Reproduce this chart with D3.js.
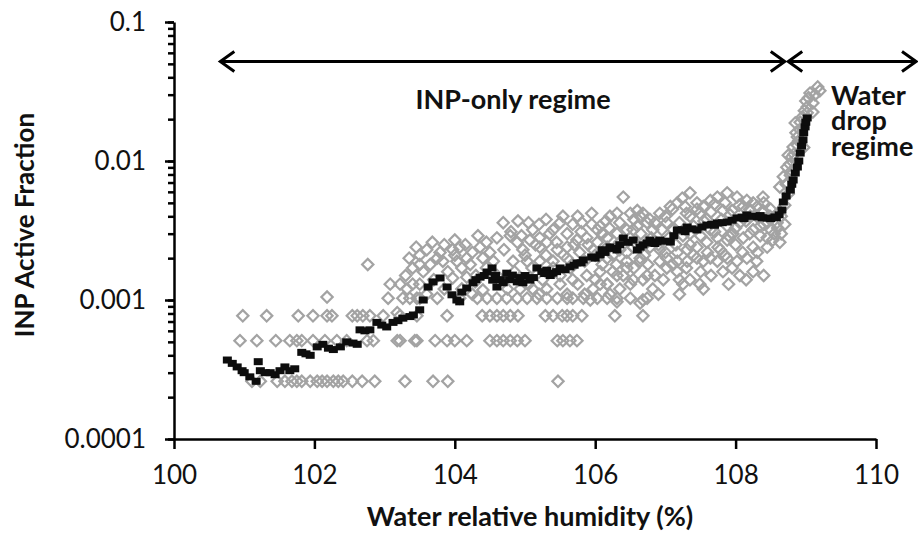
<!DOCTYPE html>
<html>
<head>
<meta charset="utf-8">
<script src="https://cdn.jsdelivr.net/npm/d3@7"></script>
<style>
  html, body { margin: 0; padding: 0; background: #fff; }
  svg { display: block; font-family: Lato, "Open Sans", sans-serif; }
  .axis .domain { stroke: #000; stroke-width: 2.5px; }
  .axis line { stroke: #000; stroke-width: 2.5px; }
  .axis text { fill: #111; }
  .title { font-weight: bold; fill: #111; }
</style>
</head>
<body>
<svg id="chart" width="918" height="534"></svg>
<script>
  // x ticks (water RH %) and y ticks (active fraction)
  const rhTicks = [100, 102, 104, 106, 108, 110];
  const fracTicks = [0.0001, 0.001, 0.01, 0.1];
  const fracTickLabels = ['0.0001', '0.001', '0.01', '0.1'];

  // individual INP measurements, [RH %, active fraction] (grey diamonds)
  const inpPoints = [
    // 0.00077 row
    [100.98, 0.00077], [101.32, 0.00077], [101.77, 0.00077], [101.98, 0.00077], [102.18, 0.00077],
    [102.25, 0.00077], [102.54, 0.00077], [102.61, 0.00077], [102.69, 0.00077], [102.79, 0.00077],
    [102.98, 0.00077], [103.22, 0.00077], [103.46, 0.00077], [103.89, 0.00077], [104.39, 0.00077],
    [104.50, 0.00077], [104.60, 0.00077], [104.69, 0.00077], [104.79, 0.00077], [104.90, 0.00077],
    [105.29, 0.00077], [105.40, 0.00077], [105.53, 0.00077], [105.60, 0.00077], [105.68, 0.00077],
    [105.81, 0.00077], [106.28, 0.00077], [106.68, 0.00077],
    // 0.00051 row
    [100.94, 0.00051], [101.18, 0.00051], [101.45, 0.00051], [101.65, 0.00051], [101.75, 0.00051],
    [101.82, 0.00051], [101.98, 0.00051], [102.15, 0.00051], [102.32, 0.00051], [102.46, 0.00051],
    [102.75, 0.00051], [102.84, 0.00051], [103.18, 0.00051], [103.22, 0.00051], [103.46, 0.00051],
    [103.43, 0.00051], [103.72, 0.00051], [103.89, 0.00051], [104.00, 0.00051], [104.17, 0.00051],
    [104.50, 0.00051], [104.60, 0.00051], [104.69, 0.00051], [104.79, 0.00051], [104.89, 0.00051],
    [105.00, 0.00051], [105.46, 0.00051], [105.54, 0.00051], [105.64, 0.00051], [105.74, 0.00051],
    // 0.00026 row
    [101.11, 0.00026], [101.23, 0.00026], [101.47, 0.00026], [101.58, 0.00026], [101.68, 0.00026],
    [101.75, 0.00026], [101.82, 0.00026], [101.94, 0.00026], [102.04, 0.00026], [102.11, 0.00026],
    [102.18, 0.00026], [102.27, 0.00026], [102.34, 0.00026], [102.41, 0.00026], [102.54, 0.00026],
    [102.68, 0.00026], [102.86, 0.00026], [103.29, 0.00026], [103.69, 0.00026], [103.90, 0.00026],
    [105.47, 0.00026],
    // 0.00103 row
    [102.18, 0.00105], [103.05, 0.00103], [103.26, 0.00103], [103.36, 0.00103], [103.46, 0.00103],
    [103.50, 0.00103], [103.75, 0.00103], [104.07, 0.00103], [104.32, 0.00103], [104.46, 0.00103],
    [104.60, 0.00103], [104.74, 0.00103], [104.89, 0.00103], [105.03, 0.00103], [105.17, 0.00103],
    [105.31, 0.00103], [105.46, 0.00103], [105.60, 0.00103], [105.68, 0.00103], [105.83, 0.00103],
    [106.03, 0.00103], [106.17, 0.00103], [106.31, 0.00103], [106.50, 0.00103], [106.74, 0.00103],
    // scattered, 102.5 - 104.5
    [102.76, 0.0018], [103.08, 0.0013], [103.22, 0.0013], [103.50, 0.0013], [103.18, 0.00081],
    [103.68, 0.0026], [104.33, 0.0029], [104.69, 0.0036], [103.97, 0.0023], [104.07, 0.0024],
    [104.17, 0.0020], [104.36, 0.0024], [104.50, 0.0022], [103.50, 0.0021], [103.60, 0.0023],
    [103.79, 0.0022], [103.40, 0.0017], [103.50, 0.0018], [103.65, 0.0018], [103.83, 0.0019],
    [104.03, 0.0019], [104.22, 0.0018], [104.40, 0.0020], [103.40, 0.0013], [103.32, 0.0012],
    [103.97, 0.00144], [104.17, 0.00146], [104.29, 0.00135], [104.40, 0.00118],
    [103.30, 0.0015], [103.45, 0.0024], [103.55, 0.0016], [103.70, 0.0014], [103.75, 0.0020],
    [103.85, 0.0025], [103.90, 0.0016], [104.00, 0.0021], [104.10, 0.0017], [104.15, 0.0025],
    [104.25, 0.0022], [104.30, 0.0015], [104.45, 0.0017], [104.45, 0.0026], [103.60, 0.0011],
    [103.85, 0.0012], [104.10, 0.0012], [104.25, 0.0011], [104.00, 0.0027], [103.35, 0.0020],
    // dense cloud, 104.5 - 106.8
    [104.60, 0.0028], [104.79, 0.0029], [105.11, 0.0032], [105.21, 0.0028], [105.40, 0.0032],
    [105.54, 0.0040], [105.68, 0.0035], [105.81, 0.0036], [106.03, 0.0032], [106.21, 0.0040],
    [106.40, 0.0055], [106.50, 0.0042], [106.64, 0.0040],
    [104.89, 0.0026], [104.97, 0.0023], [105.07, 0.0027], [105.21, 0.0024], [105.31, 0.0026],
    [105.46, 0.0023], [105.60, 0.0024], [105.74, 0.0027], [105.88, 0.0028], [106.03, 0.0026],
    [106.17, 0.0028], [106.31, 0.0030], [106.45, 0.0032], [106.60, 0.0034], [106.74, 0.0036],
    [104.83, 0.0019], [105.03, 0.0019], [105.21, 0.0019], [105.40, 0.0019], [105.60, 0.0020],
    [105.78, 0.0022], [105.97, 0.0023], [106.17, 0.0024], [106.35, 0.0026], [106.54, 0.0024],
    [106.74, 0.0026], [104.93, 0.0012], [105.11, 0.0012], [105.31, 0.0012], [105.50, 0.0013],
    [105.68, 0.0014], [105.88, 0.0015], [106.07, 0.0016], [106.25, 0.0016], [106.45, 0.0017],
    [106.64, 0.0019], [105.97, 0.0012], [106.17, 0.0013], [106.35, 0.0012], [106.54, 0.0014],
    [106.74, 0.0015], [105.93, 0.0010], [106.21, 0.0011], [106.64, 0.00095], [106.07, 0.0013],
    [106.31, 0.00097], [106.68, 0.0010],
    [104.55, 0.0019], [104.60, 0.0015], [104.70, 0.0023], [104.75, 0.0012], [104.80, 0.0031],
    [104.85, 0.0016], [104.95, 0.0029], [105.00, 0.0021], [105.05, 0.0013], [105.10, 0.0017],
    [105.15, 0.0025], [105.20, 0.0035], [105.25, 0.0014], [105.30, 0.0021], [105.35, 0.0030],
    [105.40, 0.0017], [105.45, 0.0026], [105.50, 0.0036], [105.50, 0.0015], [105.55, 0.0021],
    [105.60, 0.0030], [105.65, 0.0017], [105.70, 0.0025], [105.75, 0.0013], [105.80, 0.0031],
    [105.85, 0.0019], [105.90, 0.0025], [105.95, 0.0035], [106.00, 0.0014], [106.00, 0.0021],
    [106.10, 0.0030], [106.10, 0.0018], [106.15, 0.0037], [105.20, 0.0011], [105.60, 0.0011],
    [105.85, 0.0011], [104.90, 0.0037], [105.05, 0.0036], [105.30, 0.0038], [105.75, 0.0040],
    [105.95, 0.0042],
    // upper right cloud, 106 - 108.6
    [106.07, 0.0034], [106.31, 0.0042], [106.60, 0.0044], [106.68, 0.0042], [106.78, 0.0038],
    [106.54, 0.0032], [106.82, 0.0032], [107.02, 0.0036], [107.17, 0.0050], [107.24, 0.0054],
    [107.35, 0.0059], [107.28, 0.0047], [107.45, 0.0050], [107.54, 0.0047], [107.64, 0.0052],
    [107.74, 0.0055], [107.88, 0.0059], [108.02, 0.0055], [108.16, 0.0052], [108.25, 0.0050],
    [108.39, 0.0044], [108.49, 0.0040], [108.59, 0.0036], [108.31, 0.0047], [108.39, 0.0055],
    [108.11, 0.0047], [107.82, 0.0044], [107.49, 0.0042], [107.35, 0.0040], [107.59, 0.0038],
    [107.92, 0.0041], [108.21, 0.0040], [106.92, 0.0042], [107.07, 0.0047], [107.11, 0.0032],
    [107.35, 0.0030], [107.64, 0.0032], [107.88, 0.0034], [108.06, 0.0036],
    [106.20, 0.0033], [106.25, 0.0021], [106.30, 0.0018], [106.35, 0.0036], [106.40, 0.0015],
    [106.45, 0.0022], [106.50, 0.0028], [106.55, 0.0038], [106.55, 0.0017], [106.60, 0.0025],
    [106.65, 0.0030], [106.70, 0.0021], [106.75, 0.0018], [106.80, 0.0028], [106.85, 0.0036],
    [106.85, 0.0015], [106.90, 0.0025], [106.95, 0.0032], [107.00, 0.0040], [107.00, 0.0022],
    [107.05, 0.0028], [107.10, 0.0018], [107.10, 0.0045], [107.15, 0.0025], [107.20, 0.0036],
    [107.20, 0.0014], [107.25, 0.0029], [107.30, 0.0042], [107.30, 0.0017], [107.35, 0.0025],
    [107.40, 0.0034], [107.40, 0.0021], [107.45, 0.0045], [107.50, 0.0029], [107.50, 0.0016],
    [107.55, 0.0037], [107.60, 0.0022], [107.65, 0.0043], [107.65, 0.0015], [107.70, 0.0031],
    [107.70, 0.0049], [107.75, 0.0024], [107.80, 0.0038], [107.85, 0.0021], [107.85, 0.0050],
    [107.90, 0.0029], [107.95, 0.0044], [107.95, 0.0017], [108.00, 0.0033], [108.00, 0.0025],
    [108.05, 0.0048], [108.10, 0.0022], [108.15, 0.0037], [108.20, 0.0030], [108.20, 0.0045],
    [108.25, 0.0024], [108.30, 0.0040], [108.30, 0.0019], [108.35, 0.0029], [108.40, 0.0035],
    [108.40, 0.0050], [108.45, 0.0024], [108.50, 0.0032], [108.50, 0.0045], [108.55, 0.0030],
    [108.60, 0.0042], [108.60, 0.0033], [108.65, 0.0030], [108.65, 0.0040], [108.70, 0.0048],
    [108.70, 0.0035], [108.75, 0.0058], [108.40, 0.0015], [108.25, 0.0016], [107.90, 0.0013],
    [107.20, 0.0011], [106.90, 0.0011], [108.15, 0.0014],
    // lower right cloud
    [106.17, 0.0020], [106.35, 0.0023], [106.45, 0.0019], [106.64, 0.0020], [106.78, 0.0024],
    [106.92, 0.0023], [107.02, 0.0020], [107.17, 0.0022], [107.31, 0.0023], [107.45, 0.0024],
    [107.59, 0.0026], [107.74, 0.0028], [107.88, 0.0027], [107.96, 0.0030], [108.11, 0.0028],
    [108.25, 0.0032], [108.35, 0.0034], [108.45, 0.0036], [106.17, 0.0013], [106.31, 0.0015],
    [106.50, 0.0013], [106.68, 0.0014], [106.82, 0.0012], [106.97, 0.0014], [107.02, 0.0017],
    [107.17, 0.0019], [107.31, 0.0019], [107.45, 0.0020], [107.54, 0.0019], [107.64, 0.0020],
    [107.78, 0.0023], [107.88, 0.0020], [108.02, 0.0019], [108.16, 0.0020], [108.31, 0.0022],
    [108.45, 0.0028], [108.53, 0.0027], [108.63, 0.0026], [107.49, 0.0013], [107.54, 0.0012],
    [108.06, 0.0015], [107.82, 0.0016], [107.74, 0.0019], [107.17, 0.0016], [107.25, 0.0013],
    [107.35, 0.0014], [106.92, 0.0019],
    // water drop rise
    [108.63, 0.0065], [108.68, 0.0077], [108.73, 0.0090], [108.80, 0.0107], [108.82, 0.0126],
    [108.88, 0.0149], [108.92, 0.0167], [108.95, 0.0207], [109.02, 0.0245], [109.10, 0.0261],
    [109.06, 0.0308], [109.17, 0.0341], [109.02, 0.0222], [109.10, 0.0225], [108.88, 0.0130],
    [108.85, 0.0188], [108.78, 0.0079], [108.72, 0.0068], [108.77, 0.0095], [108.80, 0.0085],
    [108.83, 0.0112], [108.86, 0.0160], [108.90, 0.0140], [108.92, 0.0190], [108.95, 0.0175],
    [108.98, 0.0230], [109.00, 0.0270], [109.04, 0.0285], [109.13, 0.0300], [109.20, 0.0320],
    [108.97, 0.0125], [108.75, 0.0110]
  ];

  // running mean, [RH %, active fraction] (black markers)
  const meanPoints = [
    [100.76, 0.00037], [100.83, 0.00035], [100.90, 0.00033], [100.97, 0.00031], [101.00, 0.00030],
    [101.08, 0.00028], [101.17, 0.00026], [101.20, 0.00036], [101.23, 0.00031], [101.30, 0.00030],
    [101.37, 0.00030], [101.44, 0.00029], [101.51, 0.00031], [101.58, 0.00033], [101.65, 0.00031],
    [101.72, 0.00032], [101.82, 0.00042], [101.88, 0.00041], [101.94, 0.00040], [102.04, 0.00046],
    [102.12, 0.00048], [102.20, 0.00045], [102.27, 0.00044], [102.37, 0.00046], [102.46, 0.00050],
    [102.55, 0.00049], [102.61, 0.00048], [102.65, 0.00061], [102.72, 0.00060], [102.79, 0.00061],
    [102.89, 0.00069], [102.96, 0.00066], [103.03, 0.00064], [103.12, 0.00069], [103.19, 0.00071],
    [103.26, 0.00074], [103.36, 0.00076], [103.41, 0.00078], [103.50, 0.00085], [103.55, 0.00100],
    [103.62, 0.00124], [103.69, 0.00135], [103.79, 0.00144], [103.89, 0.00124], [103.96, 0.00109],
    [104.03, 0.00100], [104.07, 0.00097], [104.10, 0.00114], [104.17, 0.00122], [104.26, 0.00133],
    [104.36, 0.00146], [104.46, 0.00159], [104.53, 0.00170], [104.54, 0.00139], [104.60, 0.00124],
    [104.65, 0.00140], [104.69, 0.00133], [104.74, 0.00156], [104.78, 0.00140], [104.82, 0.00151],
    [104.89, 0.00135], [104.97, 0.00133], [105.00, 0.00150], [105.07, 0.00139], [105.12, 0.00145],
    [105.17, 0.00170], [105.24, 0.00160], [105.31, 0.00164], [105.36, 0.00150], [105.40, 0.00156],
    [105.45, 0.00160], [105.50, 0.00170], [105.57, 0.00165], [105.64, 0.00173], [105.70, 0.00178],
    [105.74, 0.00185], [105.83, 0.00194], [105.95, 0.00204], [106.00, 0.00200], [106.07, 0.00211],
    [106.14, 0.00220], [106.21, 0.00241], [106.26, 0.00235], [106.31, 0.00229], [106.40, 0.00279],
    [106.47, 0.00260], [106.54, 0.00270], [106.60, 0.00229], [106.68, 0.00249], [106.74, 0.00257],
    [106.78, 0.00270], [106.85, 0.00255], [106.92, 0.00270], [107.00, 0.00265], [107.07, 0.00261],
    [107.12, 0.00290], [107.17, 0.00319], [107.24, 0.00320], [107.31, 0.00335], [107.38, 0.00325],
    [107.45, 0.00319], [107.52, 0.00335], [107.59, 0.00346], [107.66, 0.00350], [107.74, 0.00358],
    [107.81, 0.00360], [107.88, 0.00364], [107.95, 0.00375], [108.02, 0.00389], [108.09, 0.00395],
    [108.16, 0.00409], [108.23, 0.00400], [108.31, 0.00396], [108.38, 0.00390], [108.45, 0.00389],
    [108.50, 0.00385], [108.56, 0.00396], [108.62, 0.00410], [108.66, 0.00444], [108.68, 0.00507],
    [108.72, 0.00560], [108.78, 0.00618], [108.80, 0.00680], [108.82, 0.00730], [108.85, 0.00820],
    [108.88, 0.00905], [108.90, 0.0100], [108.92, 0.0114], [108.94, 0.0128], [108.96, 0.0142],
    [108.97, 0.0160], [108.99, 0.0176], [109.00, 0.0190], [109.02, 0.0204],
    [104.30, 0.00140], [104.42, 0.00150], [104.58, 0.00150], [104.93, 0.00145], [105.28, 0.00155],
    [105.80, 0.00185], [106.10, 0.00230], [106.35, 0.00250], [106.64, 0.00240], [106.88, 0.00262],
    [107.28, 0.00310], [107.70, 0.00345], [108.12, 0.00385], [108.35, 0.00405], [108.58, 0.00390]
  ];

  // regime annotations: arrow spans in RH %, at fraction level arrowFrac
  const regimeSpans = [[100.66, 108.70], [108.75, 110.57]];
  const arrowFrac = 0.052;
  const waterLines = ['Water', 'drop', 'regime'];

  const width = 918, height = 534;
  const margin = { top: 22, right: 42, bottom: 95, left: 174 };
  const innerWidth = width - margin.left - margin.right;
  const innerHeight = height - margin.top - margin.bottom;

  const svg = d3.select('#chart');
  const g = svg.append('g')
    .attr('transform', `translate(${margin.left},${margin.top})`);

  const xScale = d3.scaleLinear()
    .domain([100, 110])
    .range([0, innerWidth]);

  const yScale = d3.scaleLog()
    .domain([0.0001, 0.1])
    .range([innerHeight, 0]);

  // grey diamonds
  const diamond = d3.symbol().type(d3.symbolSquare).size(64);
  g.append('g').selectAll('path').data(inpPoints)
    .enter().append('path')
      .attr('d', diamond)
      .attr('transform', d => `translate(${xScale(d[0])},${yScale(d[1])}) rotate(45)`)
      .attr('fill', 'none')
      .attr('stroke', '#a3a3a3')
      .attr('stroke-width', 2.2);

  // black running mean markers
  g.append('g').selectAll('rect').data(meanPoints)
    .enter().append('rect')
      .attr('x', d => xScale(d[0]) - 4.5)
      .attr('y', d => yScale(d[1]) - 3.5)
      .attr('width', 9)
      .attr('height', 7)
      .attr('fill', '#0d0d0d');

  // minor y ticks
  const minorG = g.append('g')
    .attr('class', 'axis')
    .call(d3.axisLeft(yScale).tickValues(yScale.ticks()).tickSize(6).tickFormat(''));
  minorG.select('.domain').remove();
  minorG.selectAll('text').remove();

  // y axis
  g.append('g')
    .attr('class', 'axis')
    .call(d3.axisLeft(yScale)
      .tickValues(fracTicks)
      .tickSize(9)
      .tickSizeOuter(0)
      .tickPadding(19)
      .tickFormat((d, i) => fracTickLabels[i]))
    .attr('font-size', 26)
    .attr('font-family', 'Lato, sans-serif');

  // x axis
  const xAxisG = g.append('g')
    .attr('class', 'axis')
    .attr('transform', `translate(0,${innerHeight})`)
    .call(d3.axisBottom(xScale)
      .tickValues(rhTicks)
      .tickSize(10)
      .tickSizeOuter(0)
      .tickFormat(d3.format('d')))
    .attr('font-size', 26)
    .attr('font-family', 'Lato, sans-serif');
  xAxisG.selectAll('text')
    .attr('y', 27)
    .attr('dy', '0.71em');

  // axis titles
  svg.append('text')
    .attr('class', 'title')
    .attr('x', 530)
    .attr('y', 526)
    .attr('text-anchor', 'middle')
    .attr('font-size', 27)
    .text('Water relative humidity (%)');

  svg.append('text')
    .attr('class', 'title')
    .attr('transform', `translate(34,${225}) rotate(-90)`)
    .attr('text-anchor', 'middle')
    .attr('font-size', 26)
    .text('INP Active Fraction');

  // regime arrows
  const arrowY = yScale(arrowFrac);
  const arrows = g.append('g')
    .attr('fill', 'none')
    .attr('stroke', '#000')
    .attr('stroke-width', 3);
  regimeSpans.forEach(([a, b]) => {
    const x0 = xScale(a), x1 = xScale(b);
    arrows.append('line')
      .attr('x1', x0).attr('x2', x1)
      .attr('y1', arrowY).attr('y2', arrowY);
    arrows.append('path')
      .attr('d', `M${x0 + 14},${arrowY - 10}L${x0},${arrowY}L${x0 + 14},${arrowY + 10}`);
    arrows.append('path')
      .attr('d', `M${x1 - 14},${arrowY - 10}L${x1},${arrowY}L${x1 - 14},${arrowY + 10}`);
  });

  // regime labels
  g.append('text')
    .attr('class', 'title')
    .attr('x', xScale(104.83))
    .attr('y', yScale(0.0238))
    .attr('text-anchor', 'middle')
    .attr('font-size', 27)
    .text('INP-only regime');

  const waterX = xScale(109.36);
  const waterY = yScale(0.0253);
  g.selectAll('.water-label').data(waterLines)
    .enter().append('text')
      .attr('class', 'title water-label')
      .attr('x', waterX)
      .attr('y', (d, i) => waterY + i * 25.5)
      .attr('font-size', 27)
      .text(d => d);
</script>
</body>
</html>
